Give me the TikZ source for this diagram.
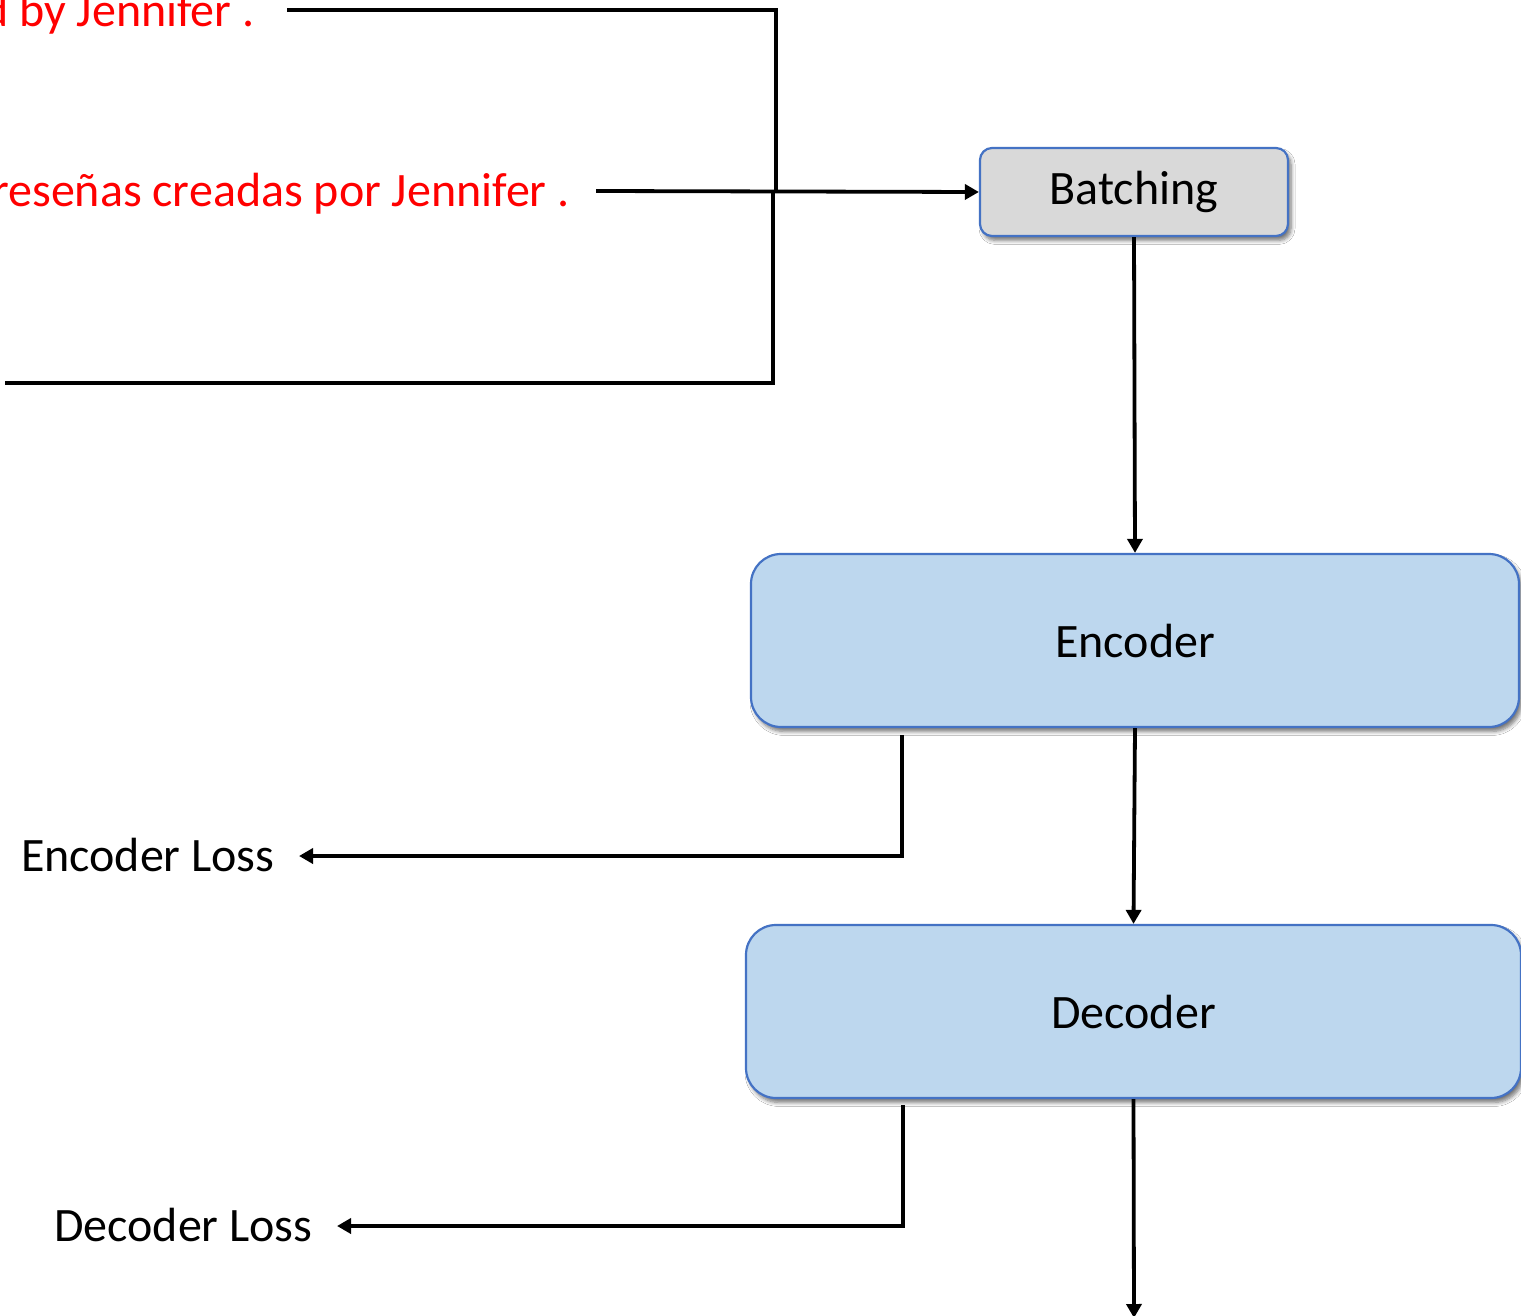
\documentclass[tikz,border=0pt]{standalone}
\usepackage{fontspec}
\setmainfont{Carlito}
\usetikzlibrary{arrows.meta,shadows.blur}
\definecolor{boxblue}{HTML}{BDD7EE}
\definecolor{boxgray}{HTML}{D9D9D9}
\definecolor{edgeblue}{HTML}{4472C4}
\definecolor{txtred}{HTML}{FF0000}
\begin{document}
\begin{tikzpicture}[x=0.5pt,y=-0.5pt,
  every node/.style={font=\fontsize{24}{29}\selectfont},
  boxnode/.style={draw=edgeblue,line width=1.1pt,
    blur shadow={shadow xshift=1.5pt,shadow yshift=-2.2pt,shadow blur steps=6,shadow opacity=55,shadow blur radius=2pt}},
  label/.style={inner sep=0pt,anchor=base east},
  redlabel/.style={label,text=txtred},
  wire/.style={line width=2.2pt},
  arr/.style={line width=1.9pt,-{Triangle[length=7pt,width=7.5pt]}},
]
\clip (0,0) rectangle (1521,1316);
\fill[white] (0,0) rectangle (1521,1316);

% nodes
\node[boxnode,fill=boxgray,rounded corners=6pt,minimum width=154pt,minimum height=44pt] (batch) at (1134,192) {Batching};
\node[boxnode,fill=boxblue,rounded corners=15pt,minimum width=384pt,minimum height=86.5pt] (enc) at (1135,640.5) {Encoder};
\node[boxnode,fill=boxblue,rounded corners=15pt,minimum width=387.5pt,minimum height=86.5pt] (dec) at (1133.5,1011.5) {Decoder};

\node[redlabel] (red1) at (255,27) {d by Jennifer .};
\node[redlabel] (red2) at (570,207) {reseñas creadas por Jennifer .};
\node[label] (eloss) at (275,871) {Encoder Loss};
\node[label] (dloss) at (313,1241) {Decoder Loss};

% coordinates for the bracket lines
\coordinate (t0) at (287,10);
\coordinate (t1) at (776,10);
\coordinate (t2) at (776,191);
\coordinate (t3) at (773,191);
\coordinate (t4) at (773,383);
\coordinate (t5) at (5,383);
\coordinate (r0) at (596,191);
\coordinate (el0) at (902,735);
\coordinate (el1) at (299,856);
\coordinate (dl0) at (903,1105);
\coordinate (dl1) at (337,1226);
\coordinate (out) at (1134,1318);

% bracket
\draw[wire] (t0) -- (t1) -- (t2);
\draw[wire] (t3) -- (t4) -- (t5);

% connectors
\draw[arr] (r0) -- (batch.west);
\draw[arr] (batch.south) -- (enc.north);
\draw[arr] (enc.south) -- (dec.north);
\draw[arr] (dec.south) -- (out);
\draw[arr] (el0) |- (el1);
\draw[arr] (dl0) |- (dl1);
\end{tikzpicture}
\end{document}
